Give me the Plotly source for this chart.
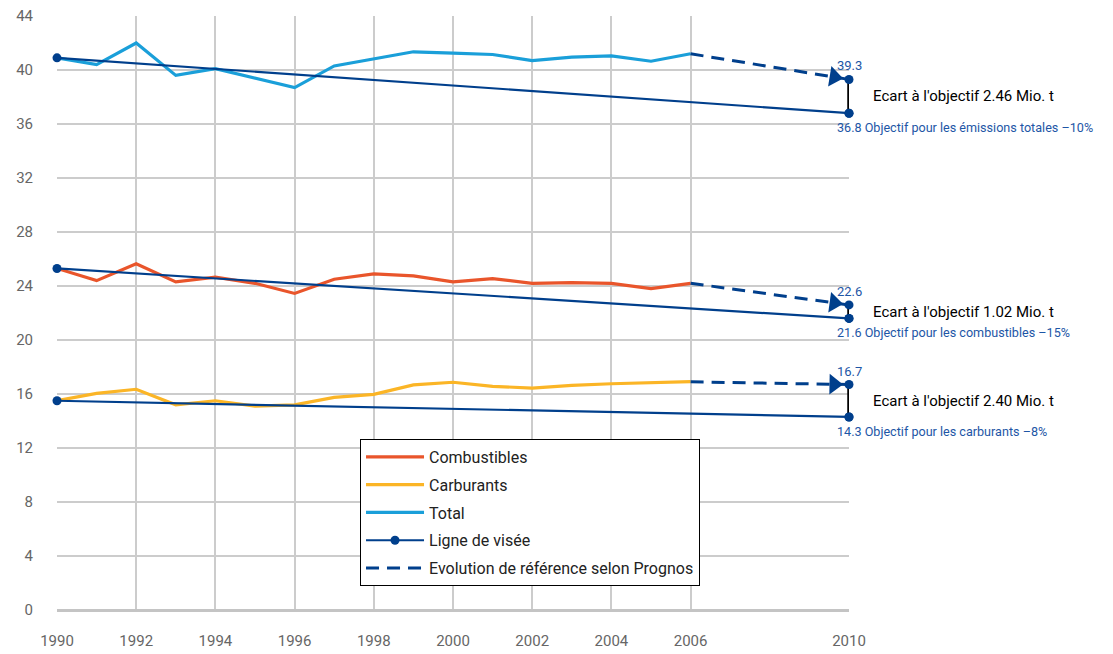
import plotly.graph_objects as go

years = list(range(1990, 2007))
total = [40.9, 40.4, 42.0, 39.6, 40.1, 39.4, 38.7, 40.3, 40.8, 41.35, 41.25, 41.15, 40.7, 40.95, 41.05, 40.65, 41.2]
combustibles = [25.3, 24.4, 25.65, 24.3, 24.65, 24.2, 23.45, 24.5, 24.9, 24.75, 24.3, 24.55, 24.2, 24.25, 24.2, 23.8, 24.2]
carburants = [15.5, 16.05, 16.35, 15.2, 15.5, 15.1, 15.2, 15.75, 15.97, 16.67, 16.87, 16.57, 16.44, 16.64, 16.76, 16.81, 16.91]

target_years = [1990, 2010]
target_total = [40.9, 36.8]
target_comb = [25.3, 21.6]
target_carb = [15.5, 14.3]

ref_years = [2006, 2010]
ref_total = [41.2, 39.3]
ref_comb = [24.2, 22.6]
ref_carb = [16.9, 16.7]

gaps = ["2.46", "1.02", "2.40"]
objectives = ["Objectif pour les émissions totales –10%",
              "Objectif pour les combustibles –15%",
              "Objectif pour les carburants –8%"]

xticks = [1990, 1992, 1994, 1996, 1998, 2000, 2002, 2004, 2006, 2010]
yticks = list(range(0, 45, 4))

C_COMB = "#e9552b"
C_CARB = "#fbb526"
C_TOT = "#1a9fd9"
C_NAVY = "#003f8c"
C_LABEL = "#1d56a6"
FONT = "Roboto"

fig = go.Figure()

# legend-bearing data lines
fig.add_trace(go.Scatter(x=years, y=combustibles, mode="lines", name="Combustibles",
                         line=dict(color=C_COMB, width=3.2), legendgroup="a", cliponaxis=False))
fig.add_trace(go.Scatter(x=years, y=carburants, mode="lines", name="Carburants",
                         line=dict(color=C_CARB, width=3.2), legendgroup="b", cliponaxis=False))
fig.add_trace(go.Scatter(x=years, y=total, mode="lines", name="Total",
                         line=dict(color=C_TOT, width=3.2), legendgroup="c", cliponaxis=False))

# target lines
for i, ty in enumerate([target_total, target_comb, target_carb]):
    fig.add_trace(go.Scatter(x=target_years, y=ty, mode="lines+markers", name="Ligne de visée",
                             line=dict(color=C_NAVY, width=2.2),
                             marker=dict(color=C_NAVY, size=9),
                             showlegend=(i == 0), legendgroup="d", cliponaxis=False))

# reference dashed lines with arrowhead
for i, ry in enumerate([ref_total, ref_comb, ref_carb]):
    fig.add_trace(go.Scatter(x=ref_years, y=ry, mode="lines", name="Evolution de référence selon Prognos",
                             line=dict(color=C_NAVY, width=3, dash="13px,8px"),
                             showlegend=(i == 0), legendgroup="e", cliponaxis=False))
    fig.add_trace(go.Scatter(x=ref_years, y=ry, mode="markers",
                             marker=dict(symbol=["circle", "triangle-up"], size=[9, 18],
                                         color=C_NAVY, opacity=1, angleref="previous",
                                         standoff=[0, 15], line=dict(width=0, color=C_NAVY)),
                             showlegend=False, cliponaxis=False, hoverinfo="skip"))

# gap lines (black vertical) with end dots
for ry, ty in zip([ref_total, ref_comb, ref_carb], [target_total, target_comb, target_carb]):
    fig.add_trace(go.Scatter(x=[ref_years[-1], target_years[-1]], y=[ry[-1], ty[-1]],
                             mode="lines", line=dict(color="black", width=3.5),
                             showlegend=False, cliponaxis=False, hoverinfo="skip"))
    fig.add_trace(go.Scatter(x=[ref_years[-1], target_years[-1]], y=[ry[-1], ty[-1]],
                             mode="markers", marker=dict(color=C_NAVY, size=9),
                             showlegend=False, cliponaxis=False, hoverinfo="skip"))

# annotations
for ry, ty, g, obj in zip([ref_total, ref_comb, ref_carb], [target_total, target_comb, target_carb], gaps, objectives):
    x_end = ref_years[-1]
    fig.add_annotation(x=x_end, y=ry[-1], text=f"{ry[-1]:.1f}", showarrow=False,
                       xanchor="center", yanchor="bottom", yshift=4,
                       font=dict(family=FONT, size=13, color=C_LABEL))
    fig.add_annotation(x=x_end, y=ty[-1], text=f"{ty[-1]:.1f} {obj}", showarrow=False,
                       xanchor="left", yanchor="top", xshift=-14, yshift=-5,
                       font=dict(family=FONT, size=12.6, color=C_LABEL))
    fig.add_annotation(x=x_end, y=(ry[-1] + ty[-1]) / 2, text=f"Ecart à l'objectif {g} Mio. t",
                       showarrow=False, xanchor="left", yanchor="middle", xshift=22,
                       font=dict(family=FONT, size=15, color="black"))

# page body has an 8px default margin: compensate so the chart sits as in the reference
fig.update_layout(
    width=1105, height=646,
    margin=dict(l=49, r=264, t=8, b=44, autoexpand=False),
    paper_bgcolor="white", plot_bgcolor="white",
    font=dict(family=FONT, size=15, color="#666666"),
    showlegend=True,
    legend=dict(x=0.3826, y=0.288, xanchor="left", yanchor="top",
                bgcolor="white", bordercolor="black", borderwidth=1,
                font=dict(family=FONT, size=16, color="#222222"),
                itemwidth=58,
                tracegroupgap=4, traceorder="grouped"),
    xaxis=dict(range=[1990, 2010], tickvals=xticks, ticktext=[str(t) for t in xticks],
               showgrid=True, gridcolor="#cccccc", gridwidth=1.5, zeroline=False,
               showline=False, ticks="", ticklabelstandoff=20, automargin=False,
               ticklabeloverflow="allow",
               tickfont=dict(family=FONT, size=15, color="#666666")),
    yaxis=dict(range=[0, 44.0001], tickvals=yticks, showgrid=True, gridcolor="#cccccc", gridwidth=1.5,
               zeroline=True, zerolinecolor="#c4c4c4", zerolinewidth=2.5,
               showline=False, ticks="", ticklabelstandoff=23, automargin=False,
               ticklabeloverflow="allow",
               tickfont=dict(family=FONT, size=15, color="#666666")),
)

fig.write_html("out.html")
